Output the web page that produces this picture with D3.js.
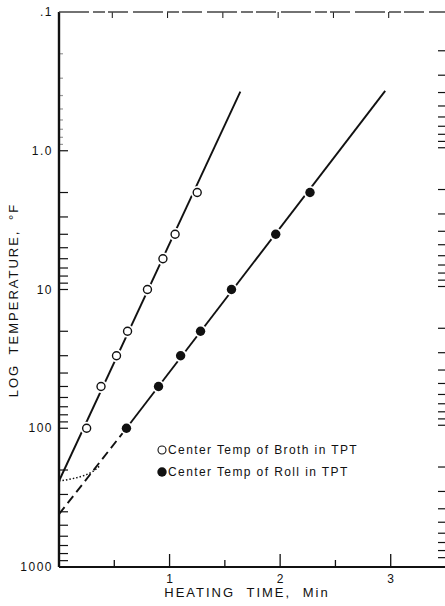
<!DOCTYPE html>
<html>
<head>
<meta charset="utf-8">
<script src="https://cdn.jsdelivr.net/npm/d3@7"></script>
<style>
  body { margin: 0; background: #fff; }
  svg { display: block; font-family: "Liberation Sans", Arial, sans-serif; }
</style>
</head>
<body>
<div id="chart"></div>
<script>
// Data (time in min, log temperature value)
const BROTH_TIMES = [0.25, 0.38, 0.52, 0.62, 0.8, 0.94, 1.05, 1.25];
const BROTH_VALUES = [100, 50, 30, 20, 10, 6, 4, 2];
const ROLL_TIMES = [0.61, 0.9, 1.1, 1.28, 1.56, 1.96, 2.27];
const ROLL_VALUES = [100, 50, 30, 20, 10, 4, 2];

// fitted lines
const BROTH_LINE = [[0, 240], [1.64, 0.375]];
const ROLL_LINE_DASHED = [[0, 416], [0.61, 100]];
const ROLL_LINE_SOLID = [[0.61, 100], [2.95, 0.37]];
const LAG_CURVE = [[0, 240], [0.11, 232], [0.22, 220], [0.31, 204], [0.37, 186]];

const Y_TICKS = [0.1, 1, 10, 100, 1000];
const Y_TICK_LABELS = [".1", "1.0", "10", "100", "1000"];
const X_TICKS = [1, 2, 3];
const LEGEND_LABELS = ["Center Temp of Broth in TPT", "Center Temp of Roll in TPT"];

const WIDTH = 445,
  HEIGHT = 606;
const INK = "#111";

const x = d3.scaleLinear().domain([0, 3.5]).range([59, 446]);
const y = d3.scaleLog().domain([0.1, 1000]).range([12, 567]);

const svg = d3
  .select("#chart")
  .append("svg")
  .attr("width", WIDTH)
  .attr("height", HEIGHT);

// minor log ticks on left and right edges
const minorTicks = [];
for (let d = 0.1; d < 1000; d *= 10) {
  for (let k = 2; k <= 9; k++) minorTicks.push(+(d * k).toPrecision(3));
}
const edgeTicks = minorTicks.concat(Y_TICKS.slice(1, 4));

// left side: the top decade is faint in the scan
svg
  .append("g")
  .selectAll("line")
  .data(edgeTicks)
  .join("line")
  .attr("x1", x(0))
  .attr("x2", (d) => x(0) + (d < 1 ? 4 : 9))
  .attr("y1", (d) => y(d))
  .attr("y2", (d) => y(d))
  .attr("stroke", (d) => (d < 1 ? "#999" : INK))
  .attr("stroke-width", 1.2);

svg
  .append("g")
  .selectAll("line")
  .data(edgeTicks)
  .join("line")
  .attr("x1", x(3.5) - 8)
  .attr("x2", x(3.5))
  .attr("y1", (d) => y(d) - 3)
  .attr("y2", (d) => y(d) - 3)
  .attr("stroke", INK)
  .attr("stroke-width", 1.2);

// x ticks, bottom (up) and top (down)
const halfTicks = d3.range(0.5, 3.5, 0.5);
svg
  .append("g")
  .selectAll("line")
  .data(halfTicks)
  .join("line")
  .attr("x1", (d) => x(d))
  .attr("x2", (d) => x(d))
  .attr("y1", y(1000))
  .attr("y2", (d) => y(1000) - (Number.isInteger(d) ? 13 : 7))
  .attr("stroke", INK)
  .attr("stroke-width", 1.3);

svg
  .append("g")
  .selectAll("line")
  .data(halfTicks)
  .join("line")
  .attr("x1", (d) => x(d) - 2)
  .attr("x2", (d) => x(d) - 2)
  .attr("y1", y(0.1))
  .attr("y2", y(0.1) + 6)
  .attr("stroke", INK)
  .attr("stroke-width", 1);

// frame
svg
  .append("line")
  .attr("x1", x(0))
  .attr("x2", x(0))
  .attr("y1", y(0.1))
  .attr("y2", y(1000))
  .attr("stroke", INK)
  .attr("stroke-width", 2.4);
svg
  .append("line")
  .attr("x1", x(0))
  .attr("x2", WIDTH)
  .attr("y1", y(1000))
  .attr("y2", y(1000))
  .attr("stroke", INK)
  .attr("stroke-width", 1.8);
svg
  .append("line")
  .attr("x1", x(0))
  .attr("x2", WIDTH)
  .attr("y1", y(0.1))
  .attr("y2", y(0.1))
  .attr("stroke", "#444")
  .attr("stroke-width", 1.3)
  .attr("stroke-dasharray", "30 4 12 3 20 5");

// tick labels
svg
  .append("g")
  .selectAll("text")
  .data(Y_TICKS)
  .join("text")
  .attr("x", 53)
  .attr("y", (d) => y(d) + 4)
  .attr("text-anchor", "end")
  .attr("font-size", 12)
  .attr("letter-spacing", 1.5)
  .attr("fill", INK)
  .text((d, i) => Y_TICK_LABELS[i]);

svg
  .append("g")
  .selectAll("text")
  .data(X_TICKS)
  .join("text")
  .attr("x", (d) => x(d))
  .attr("y", 583)
  .attr("text-anchor", "middle")
  .attr("font-size", 12)
  .attr("fill", INK)
  .text((d) => d);

// axis titles
svg
  .append("text")
  .attr("x", 247)
  .attr("y", 597)
  .attr("text-anchor", "middle")
  .attr("font-size", 13)
  .attr("letter-spacing", 2)
  .attr("word-spacing", 6)
  .attr("fill", INK)
  .text("HEATING TIME, Min");

svg
  .append("text")
  .attr("transform", "translate(18,300) rotate(-90)")
  .attr("text-anchor", "middle")
  .attr("font-size", 13)
  .attr("letter-spacing", 2)
  .attr("word-spacing", 4)
  .attr("fill", INK)
  .text("LOG TEMPERATURE, °F");

// lines
const lineGen = d3
  .line()
  .x((d) => x(d[0]))
  .y((d) => y(d[1]));

svg
  .append("path")
  .attr("d", lineGen(BROTH_LINE))
  .attr("fill", "none")
  .attr("stroke", INK)
  .attr("stroke-width", 1.9);

svg
  .append("path")
  .attr("d", lineGen(ROLL_LINE_SOLID))
  .attr("fill", "none")
  .attr("stroke", INK)
  .attr("stroke-width", 1.9);

svg
  .append("path")
  .attr("d", lineGen(ROLL_LINE_DASHED))
  .attr("fill", "none")
  .attr("stroke", INK)
  .attr("stroke-width", 1.9)
  .attr("stroke-dasharray", "9 5");

svg
  .append("path")
  .attr("d", lineGen.curve(d3.curveMonotoneX)(LAG_CURVE))
  .attr("fill", "none")
  .attr("stroke", INK)
  .attr("stroke-width", 1.5)
  .attr("stroke-dasharray", "1.5 2");

// markers with white halo
const broth = BROTH_TIMES.map((t, i) => ({ t, v: BROTH_VALUES[i] }));
const roll = ROLL_TIMES.map((t, i) => ({ t, v: ROLL_VALUES[i] }));

svg
  .append("g")
  .selectAll("circle")
  .data(broth.concat(roll))
  .join("circle")
  .attr("cx", (d) => x(d.t))
  .attr("cy", (d) => y(d.v))
  .attr("r", 6.5)
  .attr("fill", "#fff");

svg
  .append("g")
  .selectAll("circle")
  .data(broth)
  .join("circle")
  .attr("cx", (d) => x(d.t))
  .attr("cy", (d) => y(d.v))
  .attr("r", 4)
  .attr("fill", "#fff")
  .attr("stroke", INK)
  .attr("stroke-width", 1.4);

svg
  .append("g")
  .selectAll("circle")
  .data(roll)
  .join("circle")
  .attr("cx", (d) => x(d.t))
  .attr("cy", (d) => y(d.v))
  .attr("r", 4.7)
  .attr("fill", INK);

// legend
const legend = svg
  .append("g")
  .selectAll("g")
  .data(LEGEND_LABELS)
  .join("g")
  .attr("transform", (d, i) => `translate(162,${450 + i * 22})`);

legend
  .append("circle")
  .attr("r", (d, i) => (i === 0 ? 4 : 4.7))
  .attr("fill", (d, i) => (i === 0 ? "#fff" : INK))
  .attr("stroke", INK)
  .attr("stroke-width", (d, i) => (i === 0 ? 1.1 : 0));

legend
  .append("text")
  .attr("x", 6)
  .attr("y", 4)
  .attr("font-size", 12)
  .attr("letter-spacing", 1.4)
  .attr("fill", INK)
  .text((d) => d);
</script>
</body>
</html>
